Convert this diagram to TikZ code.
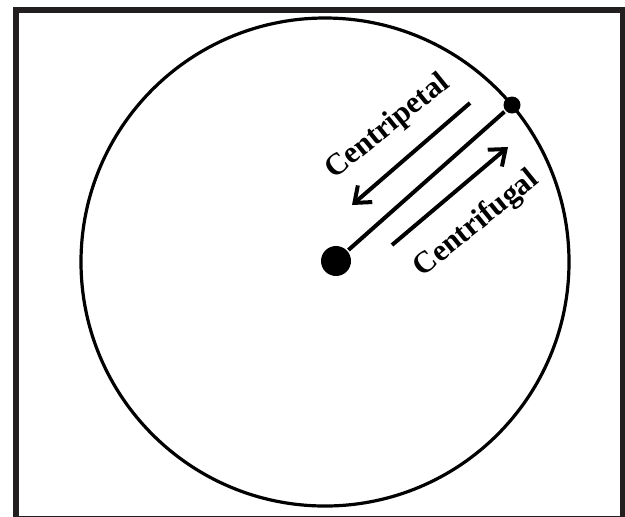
\documentclass[tikz,border=0pt]{standalone}
\usepackage{fontspec}
\setmainfont{Liberation Serif}
\usetikzlibrary{arrows.meta}
\definecolor{cframe}{RGB}{35,31,32}
\tikzset{wheel/.style={x=0.5pt,y=-0.5pt,line width=1.6pt},
  force/.style={line width=2pt,-{Straight Barb[length=7pt,width=11pt,line width=2pt]}},
  flabel/.style={font=\fontsize{15.3}{18}\selectfont\bfseries,rotate=39,inner sep=0pt}}

\begin{document}
\begin{tikzpicture}[wheel]
    \useasboundingbox (0,0) rectangle (625,516);
    \fill[white] (0,0) rectangle (625,516);
    \draw[cframe,line width=3pt] (15.5,10) rectangle (623,519);
    \draw (325,262) circle (244);
    \node[circle,fill,inner sep=0pt,minimum size=15pt] (hub) at (336,261) {};
    \node[circle,fill,inner sep=0pt,minimum size=8.5pt] (rim) at (512,105) {};
    \draw[line width=2pt] (hub) -- (rim);
    \coordinate (inA) at (470,103);
    \coordinate (inB) at (352,205);
    \coordinate (outA) at (392,245);
    \coordinate (outB) at (508,147);
    \draw[force] (inA) -- (inB);
    \draw[force] (outA) -- (outB);
    \node[flabel] (petal) at (388,127) {Centripetal};
    \node[flabel] (fugal) at (477,224) {Centrifugal};
  \end{tikzpicture}
\end{document}
